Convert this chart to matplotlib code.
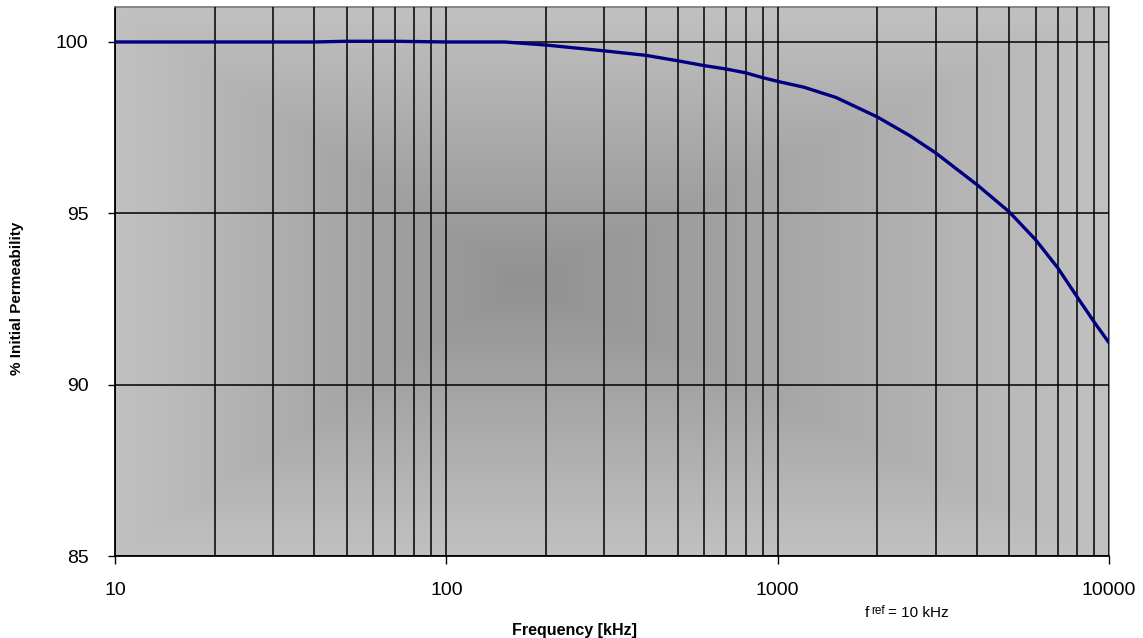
import numpy as np
import matplotlib
matplotlib.use('Agg')
import matplotlib.pyplot as plt
from matplotlib.ticker import FixedLocator, NullFormatter, NullLocator

plt.rcParams['font.family'] = ['Liberation Sans', 'DejaVu Sans']

# Data
freq_khz = [10, 20, 30, 40, 50, 70, 100, 150, 200, 300, 400, 500, 600, 700,
            800, 900, 1000, 1200, 1500, 2000, 2500, 3000, 4000, 5000, 6000,
            7000, 8000, 9000, 10000]
perm_pct = [100.0, 100.0, 100.0, 100.0, 100.02, 100.02, 100.0, 100.0, 99.91,
            99.74, 99.61, 99.45, 99.31, 99.21, 99.10, 98.96, 98.85, 98.68,
            98.38, 97.81, 97.27, 96.76, 95.83, 95.04, 94.23, 93.41, 92.57,
            91.84, 91.22]

y_ticks = [85, 90, 95, 100]
x_ticks = [10, 100, 1000, 10000]
x_tick_labels = ['10', '100', '1000', '10000']

fig = plt.figure(figsize=(11.43, 6.38), dpi=100)
ax = fig.add_axes([0.1006, 0.1285, 0.8697, 0.8605])

# rectangular "from centre" gray gradient, as in the original spreadsheet chart
n = 400
gx = np.linspace(0, 1, n)
gy = np.linspace(0, 1, n)
X, Y = np.meshgrid(gx, gy)
cx, cy = 0.41, 0.50
u = np.where(X < cx, (cx - X) / cx, (X - cx) / (1 - cx))
v = np.abs(Y - cy) / 0.5
t = np.clip(np.maximum(u, v), 0, 1)
shade = (145 + (193 - 145) * t) / 255.0
rgb = np.dstack([shade, shade, shade])
ax.imshow(rgb, extent=[0, 1, 0, 1], transform=ax.transAxes, aspect='auto',
          origin='lower', zorder=0, interpolation='bilinear')

ax.set_xscale('log')
ax.set_xlim(10, 10000)
ax.set_ylim(85, 101.02)

minor = [m * d for d in (10, 100, 1000) for m in range(2, 10)]
ax.xaxis.set_major_locator(FixedLocator(x_ticks))
ax.xaxis.set_minor_locator(FixedLocator(minor))
ax.xaxis.set_minor_formatter(NullFormatter())
ax.set_xticklabels(x_tick_labels)
ax.set_yticks(y_ticks)
ax.yaxis.set_minor_locator(NullLocator())

ax.grid(which='both', axis='x', color='black', linewidth=1.1, zorder=1)
ax.grid(which='major', axis='y', color='black', linewidth=1.1, zorder=1)
ax.set_axisbelow(False)

ax.plot(freq_khz, perm_pct, color='#000080', linewidth=2.4, zorder=3)

ax.tick_params(axis='x', which='major', direction='out', length=6, width=1,
               pad=13, labelsize=14)
ax.tick_params(axis='x', which='minor', length=0)
ax.tick_params(axis='y', which='major', direction='out', length=5, width=1,
               pad=14, labelsize=14)

for side in ('left', 'bottom'):
    ax.spines[side].set_color('black')
    ax.spines[side].set_linewidth(1.3)
for side in ('top', 'right'):
    ax.spines[side].set_color('#808080')
    ax.spines[side].set_linewidth(1.3)

ax.set_xlabel('Frequency [kHz]', fontsize=11.5, fontweight='bold')
ax.xaxis.set_label_coords(0.462, -0.122)
ax.set_ylabel('% Initial Permeability', fontsize=11, fontweight='bold')
ax.yaxis.set_label_coords(-0.092, 0.47)

# f_ref annotation
fig.text(865 / 1143, 1 - 617 / 638, 'f', fontsize=11, ha='left', va='baseline')
fig.text(871 / 1143, 1 - 614 / 638, 'ref', fontsize=8.5, ha='left', va='baseline')
fig.text(888 / 1143, 1 - 617 / 638, '= 10 kHz', fontsize=11, ha='left', va='baseline')

fig.savefig('out.png', dpi=100)
